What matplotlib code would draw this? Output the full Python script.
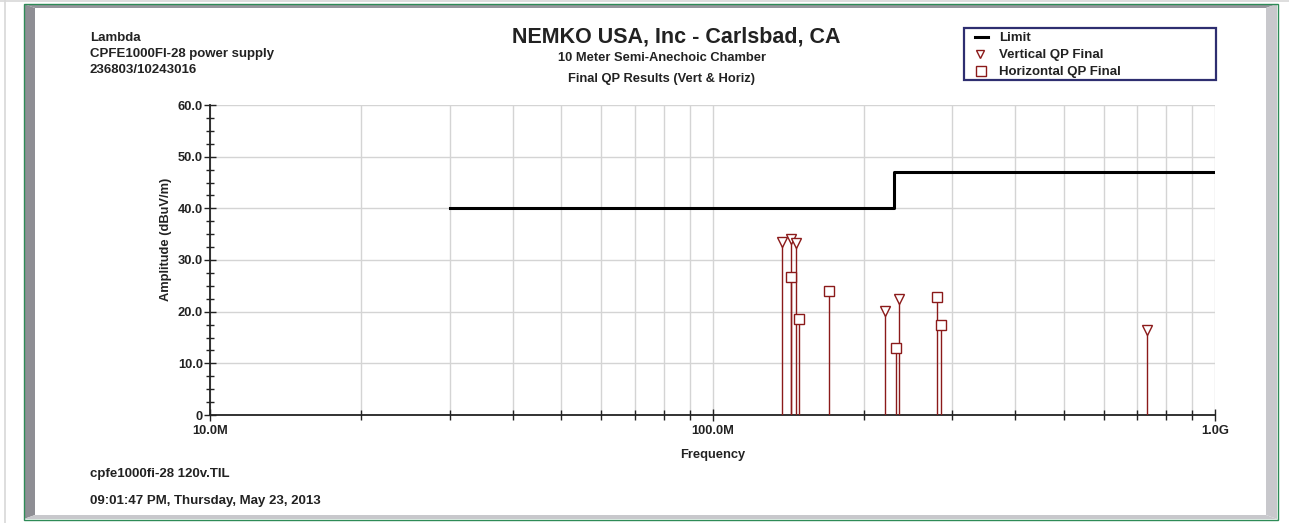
import matplotlib.pyplot as plt
import matplotlib.patches as patches
import numpy as np
from matplotlib.ticker import FixedLocator, FixedFormatter, NullFormatter

plt.rcParams['font.family'] = ['Liberation Sans', 'DejaVu Sans']
plt.rcParams['font.weight'] = 'bold'
plt.rcParams['axes.labelweight'] = 'bold'

W, H = 1289, 523

# limit line (CISPR class B, 10 m)
limit_freq = [30e6, 230e6, 230e6, 1000e6]
limit_level = [40.0, 40.0, 47.0, 47.0]

# final QP points, MHz / dBuV/m
vert_freq = [137.3, 143.1, 146.4, 220.8, 235.4, 732.0]
vert_amp = [33.5, 34.0, 33.2, 20.2, 22.5, 16.4]
horiz_freq = [143.0, 148.9, 170.3, 231.8, 280.2, 284.6]
horiz_amp = [26.8, 18.6, 24.0, 12.9, 22.9, 17.5]

xticks = [1e7, 1e8, 1e9]
xtick_labels = ['10.0M', '100.0M', '1.0G']
yticks = [0, 10, 20, 30, 40, 50, 60]
ytick_labels = ['0', '10.0', '20.0', '30.0', '40.0', '50.0', '60.0']

red = '#8b1a1a'
txt = '#222222'

fig = plt.figure(figsize=(W / 100, H / 100), dpi=100)

# background layer in pixel coordinates
bg = fig.add_axes([0, 0, 1, 1])
bg.set_xlim(0, W)
bg.set_ylim(H, 0)
bg.axis('off')

# bevelled frame
bg.add_patch(patches.Polygon([(24, 4), (1277, 4), (1266, 8), (35, 8)], closed=True,
                             fc='#96969c', ec='none'))
bg.add_patch(patches.Polygon([(24, 4), (35, 8), (35, 515), (24, 519)], closed=True,
                             fc='#8e8e94', ec='none'))
bg.add_patch(patches.Polygon([(1277, 4), (1277, 519), (1266, 515), (1266, 8)], closed=True,
                             fc='#c8c8cc', ec='none'))
bg.add_patch(patches.Polygon([(24, 519), (1277, 519), (1266, 515), (35, 515)], closed=True,
                             fc='#c8c8cc', ec='none'))
bg.add_patch(patches.Rectangle((23.5, 3.5), 1254, 516, fc='none', ec='#2e8b57', lw=1.0))
bg.plot([5, 5], [0, H], color='#d8d8d8', lw=1.2)
bg.plot([0, W], [0.8, 0.8], color='#d8d8d8', lw=1.2)

# header texts
bg.text(90, 38, 'Lambda', fontsize=9.5, va='center', ha='left', color=txt)
bg.text(90, 54, 'CPFE1000FI-28 power supply', fontsize=9.5, va='center', ha='left', color=txt)
bg.text(90, 70, '236803/10243016', fontsize=9.5, va='center', ha='left', color=txt)
bg.text(676, 37.5, 'NEMKO USA, Inc - Carlsbad, CA', fontsize=15.5, va='center', ha='center',
        color=txt)
bg.text(662, 58, '10 Meter Semi-Anechoic Chamber', fontsize=9.3, va='center', ha='center',
        color=txt)
bg.text(662, 79, 'Final QP Results (Vert & Horiz)', fontsize=9.3, va='center', ha='center',
        color=txt)
bg.text(90, 474, 'cpfe1000fi-28 120v.TIL', fontsize=9.5, va='center', ha='left', color=txt)
bg.text(90, 501, '09:01:47 PM, Thursday, May 23, 2013', fontsize=9.5, va='center', ha='left',
        color=txt)

# legend box
bg.add_patch(patches.Rectangle((963.5, 28), 252.5, 52, fc='white', ec='#2e2e70', lw=1.6))
bg.plot([975, 988], [37, 37], color='black', lw=2.2)
bg.plot([980], [54], marker='v', ms=6, mfc='white', mec=red, mew=1.0, ls='none')
bg.plot([981], [71], marker='s', ms=7, mfc='white', mec=red, mew=1.0, ls='none')
bg.text(999, 38, 'Limit', fontsize=9.5, va='center', ha='left', color=txt)
bg.text(999, 55, 'Vertical QP Final', fontsize=9.5, va='center', ha='left', color=txt)
bg.text(999, 72, 'Horizontal QP Final', fontsize=9.5, va='center', ha='left', color=txt)

# main plot
ax = fig.add_axes([210 / W, 1 - 415 / H, (1215 - 210) / W, (415 - 105) / H])
ax.patch.set_alpha(0)
ax.set_xscale('log')
ax.set_xlim(1e7, 1e9)
ax.set_ylim(0, 60)

ax.plot(limit_freq, limit_level, color='black', lw=2.2, zorder=4)

vf = np.array(vert_freq) * 1e6
hf = np.array(horiz_freq) * 1e6
ax.vlines(vf, 0, vert_amp, color=red, lw=1.0, zorder=3)
ax.vlines(hf, 0, horiz_amp, color=red, lw=1.0, zorder=3)
ax.plot(vf, vert_amp, marker='v', ms=6.5, mfc='white', mec=red, mew=1.0, ls='none', zorder=5)
ax.plot(hf, horiz_amp, marker='s', ms=7, mfc='white', mec=red, mew=1.0, ls='none', zorder=5)

ax.xaxis.set_major_locator(FixedLocator(xticks))
ax.xaxis.set_major_formatter(FixedFormatter(xtick_labels))
minor_x = [m * d for d in (1e7, 1e8) for m in range(2, 10)]
ax.xaxis.set_minor_locator(FixedLocator(minor_x))
ax.xaxis.set_minor_formatter(NullFormatter())
ax.yaxis.set_major_locator(FixedLocator(yticks))
ax.yaxis.set_major_formatter(FixedFormatter(ytick_labels))
ax.yaxis.set_minor_locator(FixedLocator([v for v in np.arange(0, 60.1, 2.5) if v % 10]))

ax.grid(which='both', axis='x', color='#d4d4d4', lw=1.0)
ax.grid(which='major', axis='y', color='#d4d4d4', lw=1.0)
ax.tick_params(which='both', direction='inout', color=txt, width=1.0,
               labelsize=9.3, labelcolor=txt)
ax.tick_params(which='major', length=8)
ax.tick_params(axis='y', which='major', pad=1)
ax.tick_params(axis='x', which='major', pad=3)
ax.tick_params(which='minor', length=6)
ax.tick_params(axis='x', which='minor', length=7)
for lab in ax.get_xticklabels() + ax.get_yticklabels():
    lab.set_fontweight('bold')

for s in ('top', 'right'):
    ax.spines[s].set_visible(False)
for s in ('left', 'bottom'):
    ax.spines[s].set_color(txt)
    ax.spines[s].set_linewidth(1.3)

ax.set_xlabel('Frequency', fontsize=9.3, color=txt, labelpad=9)
ax.set_ylabel('Amplitude (dBuV/m)', fontsize=9.3, color=txt)
ax.yaxis.set_label_coords((172 - 210) / 1005, (415 - 239) / 310)

plt.savefig('out.png', dpi=100)
